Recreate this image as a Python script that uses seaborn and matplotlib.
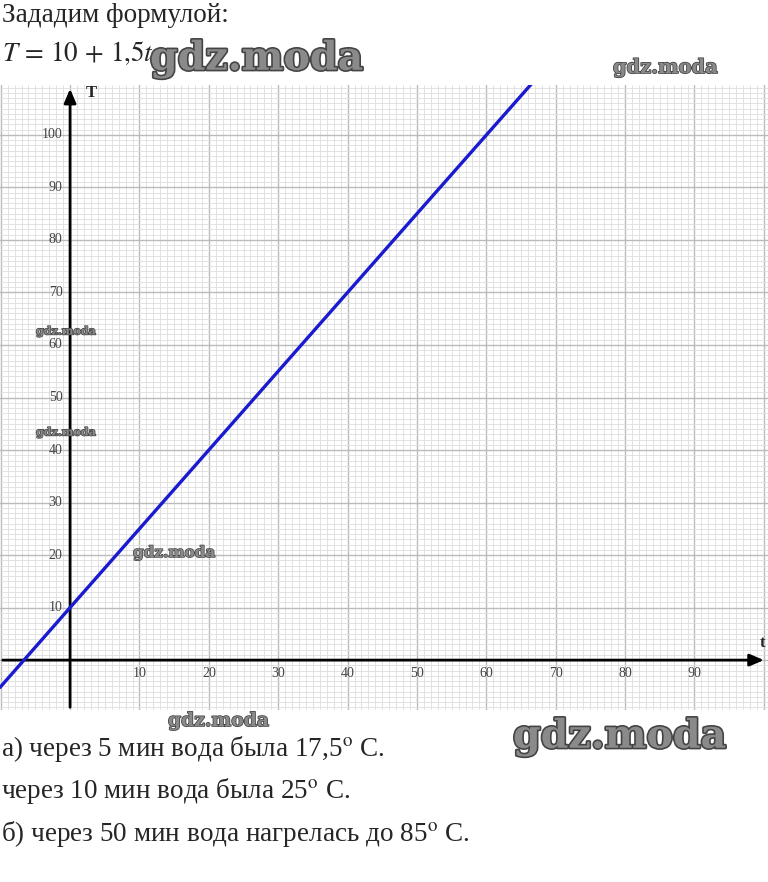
import matplotlib
matplotlib.use("Agg")
import matplotlib.pyplot as plt
import matplotlib.patheffects as pe
import seaborn as sns
import pandas as pd
import numpy as np

# values
t_vals = [-10.1, 0, 10, 50, 66.7]
T_vals = [-5.2, 10, 25, 85, 110]
x_ticks = [10, 20, 30, 40, 50, 60, 70, 80, 90]
y_ticks = [10, 20, 30, 40, 50, 60, 70, 80, 90, 100]

header = "Зададим формулой:"
formula = r"$T\,=\,10\,+\,1{,}5t$"
answers = [
    r"а) через 5 мин вода была 17,5$^{\mathrm{o}}$ С.",
    r"через 10 мин вода была 25$^{\mathrm{o}}$ С.",
    r"б) через 50 мин вода нагрелась до 85$^{\mathrm{o}}$ С.",
]

sns.set_theme(style="white")
plt.rcParams["font.family"] = ["Liberation Serif", "DejaVu Serif"]
plt.rcParams["mathtext.fontset"] = "stix"

W, H = 768, 882
fig = plt.figure(figsize=(W / 100, H / 100), dpi=100)
fig.patch.set_facecolor("white")

# axes box: x 0..768, y 85..710 px
ax = fig.add_axes([0, (H - 710) / H, 1, (710 - 85) / H])
for s in ax.spines.values():
    s.set_visible(False)
ax.set_xticks([])
ax.set_yticks([])

# graph paper
for v in np.arange(-10, 101, 1):
    major = v % 10 == 0
    ax.axvline(v, color="#bbbbbb" if major else "#dedede",
               lw=1.0 if major else 0.6, zorder=0)
for v in np.arange(-9, 110, 1):
    major = v % 10 == 0
    ax.axhline(v, color="#bbbbbb" if major else "#dedede",
               lw=1.0 if major else 0.6, zorder=0)

# axes with arrows
ax.annotate("", xy=(100.4, 0), xytext=(-10.1, 0),
            arrowprops=dict(arrowstyle="-|>,head_length=0.7,head_width=0.3",
                            color="black", lw=2), zorder=3)
ax.annotate("", xy=(0, 109.3), xytext=(0, -9.5),
            arrowprops=dict(arrowstyle="-|>,head_length=0.7,head_width=0.3",
                            color="black", lw=2), zorder=3)
ax.text(99.8, 1.8, "t", fontsize=12, fontweight="bold", ha="center", va="bottom")
ax.text(2.3, 108.0, "T", fontsize=12, fontweight="bold", ha="left", va="center")

for v in x_ticks:
    ax.text(v, -1.3, str(v), fontsize=10, color="#444444", ha="center", va="top")
for v in y_ticks:
    ax.text(-1.1, v, str(v), fontsize=10, color="#444444", ha="right", va="center")

df = pd.DataFrame({"t": t_vals, "T": T_vals})
sns.lineplot(data=df, x="t", y="T", ax=ax, color="#1a1ad0", lw=2.4, zorder=4)
ax.set_xlabel("")
ax.set_ylabel("")
ax.set_xlim(-10.1, 100.6)
ax.set_ylim(-9.5, 109.5)

# texts around the graph
fig.text(2 / W, 1 - 16 / H, header, fontsize=19.5, ha="left", va="center")
fig.text(2 / W, 1 - 53 / H, formula, fontsize=19.5, ha="left", va="center")
for i, line in enumerate(answers):
    fig.text(1 / W, 1 - (749 + 42.5 * i) / H, line, fontsize=19.5,
             ha="left", va="center")

# watermarks
wm = [(150, 59, 28.5), (613, 68, 14), (36, 331, 8), (36, 432, 8),
      (133, 553, 11), (168, 721, 13.5), (513, 737, 28.5)]
for x, y, fs in wm:
    fig.text(x / W, 1 - y / H, "gdz.moda", fontsize=fs, fontweight="bold",
             family="DejaVu Serif", color="#8a8a8a", ha="left", va="center",
             zorder=10,
             path_effects=[pe.withStroke(linewidth=max(1, fs / 12),
                                         foreground="#444444")])

fig.savefig("out.png", dpi=100)
